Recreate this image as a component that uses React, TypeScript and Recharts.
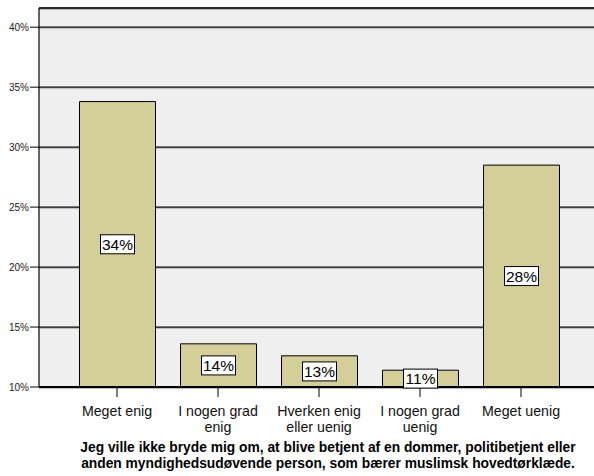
import React from 'react';
import { BarChart, Bar, XAxis, YAxis, CartesianGrid, LabelList, ReferenceLine } from 'recharts';

const categories = ['Meget enig', 'I nogen grad\nenig', 'Hverken enig\neller uenig', 'I nogen grad\nuenig', 'Meget uenig'];
const percents = [33.8, 13.6, 12.6, 11.4, 28.5];
const valueLabels = ['34%', '14%', '13%', '11%', '28%'];
const yTicks = [10, 15, 20, 25, 30, 35, 40];
const titleLines = [
  'Jeg ville ikke bryde mig om, at blive betjent af en dommer, politibetjent eller',
  'anden myndighedsudøvende person, som bærer muslimsk hovedtørklæde.',
];

const data = categories.map((name, i) => ({ name, value: percents[i], label: valueLabels[i] }));

const FONT = '"Liberation Sans", Arial, Helvetica, sans-serif';

const XTick = (props: any) => {
  const { x, y, payload } = props;
  const lines = String(payload.value).split('\n');
  return (
    <text x={x} y={y + 17} textAnchor="middle" fontFamily={FONT} fontSize={14.2} fill="#111">
      {lines.map((l, i) => (
        <tspan key={i} x={x} dy={i === 0 ? 0 : 16}>{l}</tspan>
      ))}
    </text>
  );
};

const GridLine = (props: any) => {
  const { x1, x2, y1, y2 } = props;
  return (
    <g>
      <line x1={x1} x2={x2} y1={y1 + 1.5} y2={y2 + 1.5} stroke="#bdbdbd" strokeWidth={1} />
      <line x1={x1} x2={x2} y1={y1} y2={y2} stroke="#000" strokeWidth={1.3} />
    </g>
  );
};

const BoxLabel = (props: any) => {
  const { x, y, width, height, value } = props;
  const cx = x + width / 2;
  const cy = y + height / 2;
  const w = 34;
  const h = 19;
  return (
    <g>
      <rect x={cx - w / 2} y={cy - h / 2} width={w} height={h} fill="#fff" stroke="#000" strokeWidth={1} />
      <text x={cx} y={cy + 5.5} textAnchor="middle" fontFamily={FONT} fontSize={15.5} fill="#000">{value}</text>
    </g>
  );
};

export default function App() {
  return (
    <div style={{ position: 'absolute', left: 0, top: 0, width: 594, height: 476, background: '#fff' }}>
      <BarChart width={594} height={476} data={data} margin={{ top: 8, right: 0, left: 0, bottom: 0 }} barSize={76}>
        <CartesianGrid vertical={false} fill="#efefef" horizontal={(p: any) => <GridLine key={p.key} {...p} />} />
        <XAxis
          dataKey="name"
          interval={0}
          padding={{ left: 27.5, right: 22.5 }}
          axisLine={{ stroke: '#000', strokeWidth: 2 }}
          tickLine={{ stroke: '#000' }}
          tickSize={10}
          tick={<XTick />}
          height={89}
        />
        <YAxis
          type="number"
          domain={[10, 41.6]}
          ticks={yTicks}
          allowDataOverflow
          width={39}
          tickFormatter={(v: number) => `${v}%`}
          axisLine={{ stroke: '#000', strokeWidth: 1.2 }}
          tickLine={{ stroke: '#000' }}
          tickSize={9}
          tickMargin={1}
          tick={{ fontSize: 10, fontFamily: FONT, fill: '#222' }}
        />
        <ReferenceLine y={41.6} stroke="#222" strokeWidth={1.5} ifOverflow="visible" />
        <Bar dataKey="value" fill="#d4ce98" stroke="#000" strokeWidth={1} isAnimationActive={false}>
          <LabelList dataKey="label" content={<BoxLabel />} />
        </Bar>
        <text x={328} y={452} textAnchor="middle" fontFamily={FONT} fontSize={13.8} fontWeight="bold" fill="#000">
          {titleLines[0]}
        </text>
        <text x={328} y={468} textAnchor="middle" fontFamily={FONT} fontSize={13.8} fontWeight="bold" fill="#000">
          {titleLines[1]}
        </text>
      </BarChart>
    </div>
  );
}
